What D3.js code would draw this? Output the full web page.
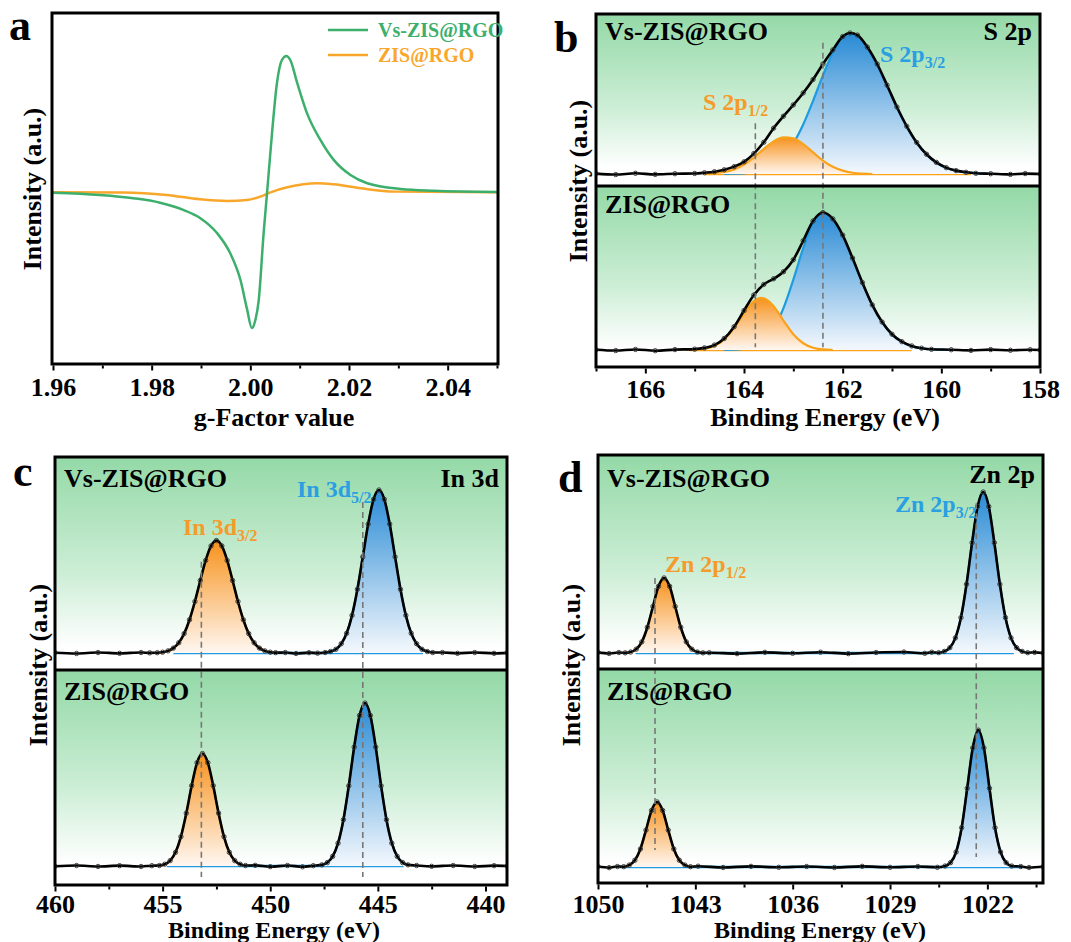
<!DOCTYPE html>
<html>
<head>
<meta charset="utf-8">
<script src="https://cdnjs.cloudflare.com/ajax/libs/d3/7.8.5/d3.min.js"></script>
<style>
  body { margin: 0; background: #fff; }
  svg { display: block; }
</style>
</head>
<body>
<svg id="fig" width="1071" height="942"></svg>
<script>
// ---------- panel a : EPR ----------
const gTicks = [1.96, 1.98, 2.00, 2.02, 2.04];
const gMinor = [1.97, 1.99, 2.01, 2.03, 2.05];
const eprNames = ["Vs-ZIS@RGO", "ZIS@RGO"];
const eprVs = [[1.960,-0.3],[1.9695,-2],[1.9763,-4.4],[1.9817,-7.7],[1.9864,-13],[1.9898,-19],[1.9932,-30],
  [1.9959,-45],[1.998,-65],[1.9993,-86],[2.0003,-100.5],[2.0010,-95],[2.0017,-80],[2.0027,-30],[2.0034,0],
  [2.0044,44],[2.0054,81],[2.0064,98],[2.0073,101],[2.0081,98],[2.0095,81],[2.0115,58.5],[2.0142,38.8],
  [2.0169,24],[2.0203,12.8],[2.0237,6.7],[2.0305,2.5],[2.0373,1.2],[2.0500,0.3]];
const eprZis = [[1.960,0],[1.9742,-0.2],[1.983,-2],[1.9898,-5.2],[1.9953,-6.4],[1.9993,-5.7],[2.002,-3.2],
  [2.0041,0],[2.0075,3.7],[2.0136,6.7],[2.0169,5.9],[2.0224,3],[2.0292,0.5],[2.050,0]];

// ---------- panel b : S 2p ----------
const sTicks = [166, 164, 162, 160, 158];
const sMinor = [167, 165, 163, 161, 159];
const sVsEnv = [[167,0.3],[166.6,-0.4],[166.2,0.5],[165.8,-0.3],[165.4,0.2],[165.0,0.4],[164.8,0.9],[164.6,1.6],
  [164.4,3.0],[164.2,5.2],[164.0,8.6],[163.8,14.5],[163.6,22.5],[163.4,32.5],[163.2,41],[163.0,49],[162.8,57.5],
  [162.6,67],[162.4,78],[162.2,88],[162.0,97.5],[161.85,100],[161.7,98.5],[161.5,90],[161.3,78],[161.1,63],
  [160.9,47.5],[160.7,33.8],[160.5,22.4],[160.3,14],[160.1,8.2],[159.9,4.5],[159.7,2.4],[159.5,1.2],[159.3,0.5],
  [159.0,0.2],[158.6,-0.3],[158.3,0.3],[158,0]];
const sVsP12 = [[164.8,0.3],[164.6,0.6],[164.4,1.4],[164.2,3.3],[164.0,6.7],[163.8,11.7],[163.6,17.7],[163.4,23.1],
  [163.2,26.0],[163.0,25.3],[162.8,21.2],[162.6,15.3],[162.4,9.5],[162.2,5.1],[162.0,2.4],[161.8,0.9],[161.6,0.3],[161.4,0]];
const sVsP32 = [[164.4,0.1],[164.2,0.2],[164.0,0.5],[163.8,1.3],[163.6,2.9],[163.4,6.3],[163.2,12.2],[163.0,21.7],
  [162.8,35.1],[162.6,51.9],[162.4,70.0],[162.2,86.0],[162.0,96.5],[161.85,99],[161.7,97.2],[161.5,89.5],[161.3,77.2],
  [161.1,62.5],[160.9,47.1],[160.7,33.4],[160.5,22.1],[160.3,13.7],[160.1,8.0],[159.9,4.3],[159.7,2.2],[159.5,1.1],
  [159.3,0.5],[159.1,0.2],[158.9,0]];
const sZisEnv = [[167,0.2],[166.6,-0.4],[166.2,0.4],[165.8,-0.5],[165.4,0.3],[165.0,0.6],[164.8,1.5],[164.6,3.5],
  [164.4,8.2],[164.2,16.5],[164.0,28],[163.8,39],[163.6,46.5],[163.4,50.5],[163.2,55.5],[163.0,64],[162.8,77.5],
  [162.6,91.5],[162.4,97.5],[162.2,93],[162.0,81.5],[161.8,65.2],[161.6,47.8],[161.4,32],[161.2,19.8],[161.0,11.2],
  [160.8,5.9],[160.6,2.9],[160.4,1.3],[160.2,0.5],[159.8,0.2],[159.4,-0.3],[159.0,0.3],[158.6,-0.2],[158.2,0.2],[158,0]];
const sZisP12 = [[165.2,0],[165.0,0.2],[164.8,0.9],[164.6,2.9],[164.4,7.5],[164.2,15.7],[164.0,26.2],[163.8,34.7],
  [163.65,37],[163.5,34.7],[163.4,31.0],[163.2,20.9],[163.0,11.2],[162.8,4.8],[162.6,1.6],[162.4,0.4],[162.2,0]];
const sZisP32 = [[164.4,0.1],[164.2,0.2],[164.0,0.9],[163.8,2.6],[163.6,6.8],[163.4,15.2],[163.2,29.7],[163.0,49.9],
  [162.8,72.2],[162.6,90.1],[162.4,97],[162.2,92.7],[162.0,81.2],[161.8,64.9],[161.6,47.5],[161.4,31.8],[161.2,19.5],
  [161.0,10.9],[160.8,5.6],[160.6,2.6],[160.4,1.1],[160.2,0.4],[160.0,0.1],[159.8,0]];
const sFitRange = [[164.8, 159.4], [165.1, 160.6]];
const sDashes = [{e: 163.77, from: 36, to: 2}, {e: 162.4, from: 93, to: 2}];

// ---------- panel c : In 3d ----------
const inTicks = [460, 455, 450, 445, 440];
const inMinor = [457.5, 452.5, 447.5, 442.5];
const inVs32 = [[455.25,0.2],[455.0,0.5],[454.75,1.3],[454.5,3.0],[454.25,6.3],[454.0,11.9],[453.75,20.4],[453.5,31.6],
  [453.25,44.5],[453.0,56.8],[452.75,65.7],[452.5,69],[452.25,65.7],[452.0,56.8],[451.75,44.5],[451.5,31.6],
  [451.25,20.4],[451.0,11.9],[450.75,6.3],[450.5,3.0],[450.25,1.3],[450.0,0.5],[449.75,0.2]];
const inVs52 = [[447.45,0.3],[447.2,0.9],[446.95,2.3],[446.7,5.7],[446.45,12.1],[446.2,23.1],[445.95,39.1],[445.7,59.0],
  [445.45,79.1],[445.2,94.3],[444.95,100],[444.7,94.3],[444.45,79.1],[444.2,59.0],[443.95,39.1],[443.7,23.1],
  [443.45,12.1],[443.2,5.7],[442.95,2.3],[442.7,0.9],[442.45,0.3]];
const inVsRest = [[460,0.2],[459,-0.3],[458,0.3],[457,-0.2],[456,0.3],[455.6,0.1],[449.3,0.3],[448.8,-0.3],
  [448.2,0.2],[447.8,-0.1],[442,0.3],[441.3,-0.2],[440.5,0.3],[439.6,-0.2],[439,0.1]];
const inZis32 = [[455.15,0.3],[454.9,1.1],[454.65,3.3],[454.4,8.4],[454.15,18.0],[453.9,32.4],[453.65,49.3],[453.4,63.4],
  [453.15,69],[452.9,63.4],[452.65,49.3],[452.4,32.4],[452.15,18.0],[451.9,8.4],[451.65,3.3],[451.4,1.1],[451.15,0.3]];
const inZis52 = [[447.6,0.7],[447.35,2.1],[447.1,5.9],[446.85,14.0],[446.6,28.4],[446.35,49.2],[446.1,73.0],[445.85,92.4],
  [445.6,100],[445.35,92.4],[445.1,73.0],[444.85,49.2],[444.6,28.4],[444.35,14.0],[444.1,5.9],[443.85,2.1],[443.6,0.7]];
const inZisRest = [[460,-0.2],[459,0.3],[458,-0.3],[457,0.2],[456,-0.3],[455.5,0.2],[450.7,0.4],[450,-0.4],[449.2,0.3],
  [448.5,-0.5],[448,0.2],[443.2,0.3],[442.5,-0.2],[441.5,0.3],[440.5,-0.3],[439.6,0.2],[439,0]];
const inFitRange = [[454.5, 442.9], [454.8, 443.8]];
const inDashes = [{e: 453.2, from: 56, to: -6.7}, {e: 445.7, from: 92.6, to: -6.7}];

// ---------- panel d : Zn 2p ----------
const znTicks = [1050, 1043, 1036, 1029, 1022];
const znMinor = [1046.5, 1039.5, 1032.5, 1025.5, 1018.5];
const znVs12 = [[1048.05,0.1],[1047.65,0.6],[1047.25,2.4],[1046.85,6.9],[1046.45,16.0],[1046.05,28.9],[1045.65,41.4],
  [1045.25,46.6],[1044.85,41.4],[1044.45,28.9],[1044.05,16.0],[1043.65,6.9],[1043.25,2.4],[1042.85,0.6],[1042.45,0.1]];
const znVs32 = [[1025.5,0.2],[1025.1,1.0],[1024.7,3.3],[1024.3,9.4],[1023.9,22.0],[1023.5,42.7],[1023.1,68.5],[1022.7,91.0],
  [1022.3,100],[1021.9,91.0],[1021.5,68.5],[1021.1,42.7],[1020.7,22.0],[1020.3,9.4],[1019.9,3.3],[1019.5,1.0],[1019.1,0.2]];
const znVsRest = [[1050,0.4],[1049.2,-0.3],[1048.5,0.3],[1042,0.2],[1040,-0.4],[1038,0.4],[1036,-0.2],[1034,0.5],
  [1032,-0.4],[1030,0.3],[1028,0.6],[1026.5,-0.2],[1026,0.5],[1018.6,0.4],[1018,0]];
const znZis12 = [[1048.15,0.2],[1047.75,1.2],[1047.35,4.2],[1046.95,11.2],[1046.55,22.9],[1046.15,35.1],[1045.75,40.4],
  [1045.35,35.1],[1044.95,22.9],[1044.55,11.2],[1044.15,4.2],[1043.75,1.2],[1043.35,0.2]];
const znZis32 = [[1025.05,0.6],[1024.65,2.7],[1024.25,9.3],[1023.85,24.4],[1023.45,48.9],[1023.05,74.0],[1022.65,85],
  [1022.25,74.0],[1021.85,48.9],[1021.45,24.4],[1021.05,9.3],[1020.65,2.7],[1020.25,0.6]];
const znZisRest = [[1050,0.3],[1049.2,-0.4],[1048.6,0.3],[1042.8,0.5],[1041,-0.3],[1039,0.4],[1037,-0.2],[1035,0.3],
  [1033,-0.3],[1031,0.4],[1029,-0.2],[1027,0.3],[1025.6,-0.2],[1019.6,0.3],[1019,-0.3],[1018,0.2]];
const znFitRange = [[1047.3, 1020.1], [1048.5, 1019.5]];
const znDashes = [{e: 1045.9, from: 46.6, to: 10.6}, {e: 1022.8, from: 93, to: 6.2}];

// ---------- styling ----------
const FONT = "Liberation Serif";
const GREEN = "#3daf6c", ORANGE = "#f9a72b";
const BLUE_LINE = "#1e9be3", ORANGE_LINE = "#f9a21a";
const BLUE_TEXT = "#2a9fe2", ORANGE_TEXT = "#f59b2b";

const svg = d3.select("#fig");
const defs = svg.append("defs");

function vGrad(id, stops) {
  const gr = defs.append("linearGradient").attr("id", id)
    .attr("x1", 0).attr("y1", 0).attr("x2", 0).attr("y2", 1);
  stops.forEach(s => gr.append("stop").attr("offset", s[0]).attr("stop-color", s[1]));
}
vGrad("bgGreen", [[0, "#94d9a7"], [0.55, "#cdeed6"], [0.9, "#ffffff"], [1, "#ffffff"]]);
vGrad("blueFill", [[0, "#2a8bd5"], [1, "#f4f8fd"]]);
vGrad("orangeFill", [[0, "#f7921c"], [1, "#fff7f1"]]);

function txt(g, x, y, s, size, color, anchor) {
  return g.append("text").attr("x", x).attr("y", y)
    .attr("font-family", FONT).attr("font-weight", "bold")
    .attr("font-size", size).attr("fill", color || "#000")
    .attr("text-anchor", anchor || "start").text(s);
}

function subLabel(g, x, y, main, sub, color) {
  const t = txt(g, x, y, main, 24, color);
  t.append("tspan").attr("dy", 6).attr("font-size", 16).text(sub);
}

function yTitle(g, x, y) {
  txt(g, 0, 0, "Intensity (a.u.)", 26, "#000", "middle")
    .attr("transform", `translate(${x},${y}) rotate(-90)`);
}

function bottomAxis(g, x, yPos, ticks, minor, fmt, pad) {
  const ax = g.append("g").attr("transform", `translate(0,${yPos})`)
    .call(d3.axisBottom(x).tickValues(ticks).tickSize(5).tickPadding(pad).tickFormat(fmt));
  ax.attr("font-family", FONT);
  ax.select(".domain").remove();
  ax.selectAll("line").attr("stroke", "#000").attr("stroke-width", 2);
  ax.selectAll("text").attr("font-family", FONT).attr("font-weight", "bold")
    .attr("font-size", 26).attr("fill", "#000");
  const mx = g.append("g").attr("transform", `translate(0,${yPos})`)
    .call(d3.axisBottom(x).tickValues(minor).tickSize(3).tickFormat(""));
  mx.select(".domain").remove();
  mx.selectAll("line").attr("stroke", "#000").attr("stroke-width", 2);
}

// ---------- draw panel a ----------
(function () {
  const box = {l: 52, r: 498, t: 13, b: 364};
  const g = svg.append("g");
  const x = d3.scaleLinear().domain([1.96, 2.05]).range([53, 497]);
  const y = d3.scaleLinear().domain([0, 100]).range([192.3, 57.3]);
  const line = d3.line().x(d => x(d[0])).y(d => y(d[1])).curve(d3.curveMonotoneX);

  g.append("path").datum(eprZis).attr("d", line).attr("fill", "none")
    .attr("stroke", ORANGE).attr("stroke-width", 2.5);
  g.append("path").datum(eprVs).attr("d", line).attr("fill", "none")
    .attr("stroke", GREEN).attr("stroke-width", 2.5);

  g.append("rect").attr("x", box.l).attr("y", box.t).attr("width", box.r - box.l)
    .attr("height", box.b - box.t).attr("fill", "none").attr("stroke", "#000").attr("stroke-width", 3);
  bottomAxis(g, x, box.b + 1.5, gTicks, gMinor, d3.format(".2f"), 7);

  [GREEN, ORANGE].forEach((c, i) => {
    g.append("line").attr("x1", 328).attr("x2", 368).attr("y1", 30 + i * 25).attr("y2", 30 + i * 25)
      .attr("stroke", c).attr("stroke-width", 2.5);
    txt(g, 378, 37 + i * 25, eprNames[i], 20, c);
  });

  txt(g, 274, 426, "g-Factor value", 26, "#000", "middle");
  yTitle(g, 41, 189);
  txt(g, 9, 40, "a", 44);
})();

// ---------- XPS panels ----------
function xpsPanel(p) {
  const g = svg.append("g");
  const box = p.box;
  const x = d3.scaleLinear().domain(p.xDomain).range([box.l, box.r]);
  const ys = p.subs.map(s => d3.scaleLinear().domain([0, 100]).range([s.base, s.base - 100 * s.ppu]));
  const lineFor = y => d3.line().x(d => x(d[0])).y(d => y(d[1])).curve(d3.curveMonotoneX);
  const areaFor = y => d3.area().x(d => x(d[0])).y0(y(0)).y1(d => y(d[1])).curve(d3.curveMonotoneX);

  const layers = p.subs.map((s, i) => {
    const id = p.id + "clip" + i;
    defs.append("clipPath").attr("id", id).append("rect")
      .attr("x", box.l).attr("y", s.top).attr("width", box.r - box.l).attr("height", s.bottom - s.top);
    return g.append("g").attr("clip-path", `url(#${id})`);
  });

  p.subs.forEach((s, i) => {
    const y = ys[i], sg = layers[i];
    sg.append("rect").attr("x", box.l).attr("y", s.top).attr("width", box.r - box.l)
      .attr("height", s.bottom - s.top).attr("fill", "url(#bgGreen)");
    sg.append("line").attr("x1", x(s.fit[0])).attr("x2", x(s.fit[1]))
      .attr("y1", y(0)).attr("y2", y(0)).attr("stroke", p.baseColor).attr("stroke-width", 2.5);
    sg.append("path").datum(s.blue).attr("d", areaFor(y)).attr("fill", "url(#blueFill)");
    sg.append("path").datum(s.blue).attr("d", lineFor(y)).attr("fill", "none")
      .attr("stroke", BLUE_LINE).attr("stroke-width", 2.2);
    sg.append("path").datum(s.orange).attr("d", areaFor(y)).attr("fill", "url(#orangeFill)");
    sg.append("path").datum(s.orange).attr("d", lineFor(y)).attr("fill", "none")
      .attr("stroke", ORANGE_LINE).attr("stroke-width", 2.2);
  });

  g.selectAll(".dash").data(p.dashes).join("line")
    .attr("x1", d => x(d.e)).attr("x2", d => x(d.e))
    .attr("y1", d => ys[0](d.from)).attr("y2", d => ys[1](d.to))
    .attr("stroke", "#777").attr("stroke-width", 1.6).attr("stroke-dasharray", "6,4");

  p.subs.forEach((s, i) => {
    const y = ys[i], sg = layers[i];
    sg.append("path").datum(s.env).attr("d", lineFor(y)).attr("fill", "none")
      .attr("stroke", "#000").attr("stroke-width", 2.6);
    sg.selectAll("circle.raw").data(s.env).join("circle").attr("class", "raw")
      .attr("cx", d => x(d[0])).attr("cy", d => y(d[1])).attr("r", 2.2)
      .attr("fill", "none").attr("stroke", "#333").attr("stroke-width", 0.9);
  });

  g.append("rect").attr("x", box.l).attr("y", box.t).attr("width", box.r - box.l)
    .attr("height", box.b - box.t).attr("fill", "none").attr("stroke", "#000").attr("stroke-width", 3);
  g.append("line").attr("x1", box.l).attr("x2", box.r).attr("y1", p.split).attr("y2", p.split)
    .attr("stroke", "#000").attr("stroke-width", 3);
  bottomAxis(g, x, box.b + 1.5, p.ticks, p.minor, d3.format("d"), p.tickPad);

  txt(g, box.l + 9, p.titleY[0], "Vs-ZIS@RGO", 26);
  txt(g, box.l + 9, p.titleY[1], "ZIS@RGO", 26);
  txt(g, box.r - 8, p.titleY[0] - p.elemDy, p.element, 26, "#000", "end");
  p.peakLabels.forEach(l => subLabel(g, l.x, l.y, l.main, l.sub, l.color));
  txt(g, p.xTitle[0], p.xTitle[1], "Binding Energy (eV)", p.xTitle[2], "#000", "middle");
  yTitle(g, p.yTitle[0], p.yTitle[1]);
  txt(g, p.letter[0], p.letter[1], p.id, 44);
}

const byEnergy = (a, b) => b[0] - a[0];

xpsPanel({
  id: "b", box: {l: 596, r: 1040, t: 14, b: 367}, split: 186, xDomain: [167, 158],
  ticks: sTicks, minor: sMinor, baseColor: ORANGE_LINE, dashes: sDashes, tickPad: 6,
  subs: [
    {top: 14, bottom: 185, base: 174, ppu: 1.41, env: sVsEnv, orange: sVsP12, blue: sVsP32, fit: sFitRange[0]},
    {top: 187, bottom: 367, base: 350, ppu: 1.41, env: sZisEnv, orange: sZisP12, blue: sZisP32, fit: sFitRange[1]}
  ],
  titleY: [40, 213], element: "S 2p", elemDy: 0,
  peakLabels: [
    {x: 880, y: 62, main: "S 2p", sub: "3/2", color: BLUE_TEXT},
    {x: 703, y: 110, main: "S 2p", sub: "1/2", color: ORANGE_TEXT}
  ],
  xTitle: [825, 426, 26], yTitle: [587, 181], letter: [554, 52]
});

xpsPanel({
  id: "c", box: {l: 55, r: 507, t: 457, b: 885}, split: 670, xDomain: [460, 439],
  ticks: inTicks, minor: inMinor, baseColor: BLUE_LINE, dashes: inDashes, tickPad: 3,
  subs: [
    {top: 457, bottom: 669, base: 653, ppu: 1.63, env: [...inVs32, ...inVs52, ...inVsRest].sort(byEnergy),
      orange: inVs32, blue: inVs52, fit: inFitRange[0]},
    {top: 671, bottom: 885, base: 866, ppu: 1.63, env: [...inZis32, ...inZis52, ...inZisRest].sort(byEnergy),
      orange: inZis32, blue: inZis52, fit: inFitRange[1]}
  ],
  titleY: [487, 700], element: "In 3d", elemDy: 0,
  peakLabels: [
    {x: 297, y: 497, main: "In 3d", sub: "5/2", color: BLUE_TEXT},
    {x: 183, y: 535, main: "In 3d", sub: "3/2", color: ORANGE_TEXT}
  ],
  xTitle: [274, 937.5, 24], yTitle: [47, 665], letter: [13, 486]
});

xpsPanel({
  id: "d", box: {l: 598, r: 1043, t: 455, b: 883}, split: 669, xDomain: [1050, 1018],
  ticks: znTicks, minor: znMinor, baseColor: BLUE_LINE, dashes: znDashes, tickPad: 5,
  subs: [
    {top: 455, bottom: 668, base: 653, ppu: 1.61, env: [...znVs12, ...znVs32, ...znVsRest].sort(byEnergy),
      orange: znVs12, blue: znVs32, fit: znFitRange[0]},
    {top: 670, bottom: 883, base: 867, ppu: 1.61, env: [...znZis12, ...znZis32, ...znZisRest].sort(byEnergy),
      orange: znZis12, blue: znZis32, fit: znFitRange[1]}
  ],
  titleY: [487, 700], element: "Zn 2p", elemDy: 4,
  peakLabels: [
    {x: 895, y: 512, main: "Zn 2p", sub: "3/2", color: BLUE_TEXT},
    {x: 665, y: 572, main: "Zn 2p", sub: "1/2", color: ORANGE_TEXT}
  ],
  xTitle: [820, 937.5, 24], yTitle: [580, 665], letter: [558, 492]
});
</script>
</body>
</html>
